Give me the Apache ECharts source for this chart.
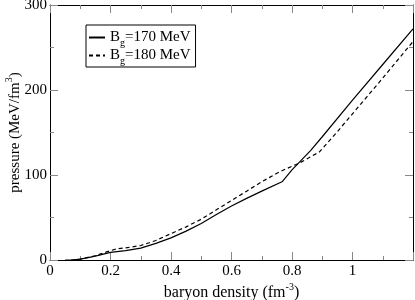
<!DOCTYPE html>
<html><head><meta charset="utf-8">
<script src="https://cdn.jsdelivr.net/npm/echarts@6/dist/echarts.min.js"></script>
<style>html,body{margin:0;padding:0;background:#fff}#c{width:415px;height:300px}</style>
</head><body><div id="c"></div>
<script>
var xTicks = [0, 0.2, 0.4, 0.6, 0.8, 1];
var yTicks = [0, 100, 200, 300];
var seriesNames = ['B_g=170 MeV', 'B_g=180 MeV'];
var x170 = [0.05, 0.08, 0.1, 0.13, 0.16, 0.2, 0.25, 0.3, 0.35, 0.4, 0.45, 0.5, 0.55, 0.6, 0.65, 0.7, 0.767, 0.8, 0.862, 0.9, 1.0, 1.1, 1.2];
var y170 = [0, 0.3, 1, 3, 5.5, 9, 11, 14, 19.5, 26, 34, 43, 53.5, 63.5, 72.5, 81, 92, 106, 129, 145, 188, 230, 272];
var x180 = [0.07, 0.1, 0.15, 0.2, 0.22, 0.26, 0.3, 0.35, 0.4, 0.45, 0.5, 0.55, 0.6, 0.65, 0.7, 0.76, 0.824, 0.89, 0.95, 1.0, 1.1, 1.2];
var y180 = [0, 1, 5, 11, 13, 14.8, 17, 23, 31, 39, 48, 59, 70, 81, 92, 104, 114, 127, 151, 172, 214, 257];

function pairs(xs, ys) { return xs.map(function (x, i) { return [x, ys[i]]; }); }
var FONT = 'Liberation Serif';
var chart = echarts.init(document.getElementById('c'), null, {renderer: 'canvas'});
function xAxisDef(pos, labels) {
  return {
    type: 'value', position: pos, min: 0, max: 1.2, interval: 0.2,
    axisLine: {show: true, onZero: false, lineStyle: {color: '#000', width: 1}},
    axisTick: {show: true, inside: true, length: 8, lineStyle: {color: '#888'}},
    minorTick: {show: true, splitNumber: 2, length: 4, lineStyle: {color: '#888'}},
    splitLine: {show: false},
    axisLabel: {show: labels, showMaxLabel: false, color: '#000', fontFamily: FONT, fontSize: 15, margin: 4,
      formatter: function (v) { return xTicks.indexOf(Math.round(v * 10) / 10) >= 0 ? String(Math.round(v * 10) / 10) : ''; }},
    name: labels ? '{n|baryon density (fm}{s|-3}{n|)}' : '',
    nameLocation: 'middle', nameGap: 22, nameMoveOverlap: false,
    nameTextStyle: {rich: {n: {fontFamily: FONT, fontSize: 16, color: '#000', verticalAlign: 'bottom'},
      s: {fontFamily: FONT, fontSize: 10, color: '#000', verticalAlign: 'bottom', padding: [0, 0, 9, 0]}}}
  };
}
function yAxisDef(pos, labels) {
  return {
    type: 'value', position: pos, min: 0, max: 300, interval: 100,
    axisLine: {show: true, onZero: false, lineStyle: {color: '#000', width: 1}},
    axisTick: {show: true, inside: true, length: 8, lineStyle: {color: '#888'}},
    minorTick: {show: true, splitNumber: 2, length: 4, lineStyle: {color: '#888'}},
    splitLine: {show: false},
    axisLabel: {show: labels, color: '#000', fontFamily: FONT, fontSize: 15, margin: 3,
      formatter: function (v) { return yTicks.indexOf(v) >= 0 ? String(v) : ''; }},
    name: labels ? '{n|pressure (MeV/fm}{s|3}{n|)}' : '',
    nameLocation: 'middle', nameGap: 27, nameRotate: 90, nameMoveOverlap: false,
    nameTextStyle: {rich: {n: {fontFamily: FONT, fontSize: 15, color: '#000', verticalAlign: 'bottom'},
      s: {fontFamily: FONT, fontSize: 10, color: '#000', verticalAlign: 'bottom', padding: [0, 0, 9, 0]}}}
  };
}
chart.setOption({
  animation: false,
  backgroundColor: '#fff',
  grid: {left: 50, right: 2, top: 5, bottom: 40, containLabel: false, outerBoundsMode: 'none'},
  xAxis: [xAxisDef('bottom', true), xAxisDef('top', false)],
  yAxis: [yAxisDef('left', true), yAxisDef('right', false)],
  legend: {
    show: true, left: 86, top: 25, orient: 'vertical', itemGap: 0,
    itemWidth: 16, itemHeight: 10, padding: [5, 5, 1, 2],
    borderColor: '#000', borderWidth: 1, borderRadius: 0,
    itemStyle: {color: 'transparent', borderColor: 'transparent', borderWidth: 0},
    data: seriesNames,
    formatter: function (n) {
      var p = n.split('_g');
      return '{n|' + p[0] + '}{b|g}{n|' + p[1] + '}';
    },
    textStyle: {rich: {n: {fontFamily: FONT, fontSize: 15, color: '#000', verticalAlign: 'top', lineHeight: 15},
      b: {fontFamily: FONT, fontSize: 10, color: '#000', verticalAlign: 'top', padding: [8, 0, 0, 0], lineHeight: 10}}}
  },
  series: [
    {name: seriesNames[0], type: 'line', xAxisIndex: 0, yAxisIndex: 0, data: pairs(x170, y170),
      symbol: 'none', smooth: false, lineStyle: {color: '#000', width: 1.2, type: 'solid'}, itemStyle: {color: '#000'}},
    {name: seriesNames[1], type: 'line', xAxisIndex: 0, yAxisIndex: 0, data: pairs(x180, y180),
      symbol: 'none', smooth: false, lineStyle: {color: '#000', width: 1.2, type: [4, 3]}, itemStyle: {color: '#000'}}
  ]
});
</script></body></html>
